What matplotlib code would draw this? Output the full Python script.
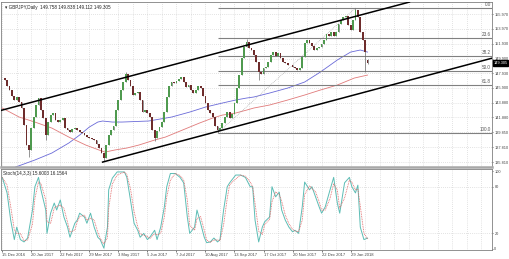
import matplotlib.pyplot as plt
import numpy as np
import pandas as pd

plt.rcParams['font.family'] = ['Liberation Sans Narrow', 'Liberation Sans', 'DejaVu Sans']

# GBPJPY daily closes, one candle per 2 bars (bar 0 = 15 Dec 2016)
closes = [
    147.25, 146.98, 146.16, 145.62, 144.80, 144.26, 144.67, 143.99, 143.17, 140.85,
    138.13, 137.45, 140.44, 141.94, 143.58, 144.53, 142.89, 141.81, 139.49, 141.26,
    142.21, 142.49, 141.53, 141.26, 141.53, 141.81, 140.44, 140.17, 139.90, 140.31,
    140.44, 140.17, 139.90, 139.76, 139.49, 139.22, 139.08, 138.95, 138.81, 138.26,
    137.72, 137.04, 136.36, 138.13, 139.49, 140.17, 140.71, 142.89, 144.26, 145.62,
    146.71, 147.80, 146.98, 146.16, 144.94, 145.21, 145.35, 144.26, 142.62, 142.89,
    142.49, 141.94, 140.17, 139.08, 140.03, 140.58, 141.26, 142.62, 144.67, 146.16,
    146.71, 146.57, 146.85, 147.12, 147.39, 146.71, 146.03, 146.30, 145.62, 145.21,
    145.62, 146.16, 145.89, 144.80, 143.85, 142.89, 142.49, 141.94, 140.71, 140.17,
    140.44, 141.12, 141.94, 142.62, 141.81, 142.35, 143.85, 145.89, 147.66, 149.98,
    151.48, 152.16, 151.34, 151.07, 150.39, 149.43, 148.07, 147.80, 148.62, 148.75,
    149.43, 150.39, 150.79, 150.25, 150.66, 149.98, 149.43, 149.30, 149.03, 149.03,
    148.75, 148.62, 148.34, 148.62, 150.11, 152.02, 152.43, 152.02, 151.61, 151.07,
    151.34, 151.48, 151.88, 152.43, 153.25, 152.97, 153.52, 152.97, 153.52, 154.61,
    155.15, 155.56, 155.70, 154.47, 153.79, 155.15, 156.52, 155.56, 153.52, 152.43,
    150.79, 149.305,
]
last_open = 149.758
# wick extremes at a few candles (bar -> price)
spike_lows = {22: 136.50, 36: 138.80, 84: 135.95, 126: 138.67, 178: 139.76, 212: 146.98, 300: 148.07, 302: 149.112}
spike_highs = {102: 148.07, 202: 152.57, 292: 156.79, 302: 149.838}

# moving averages (bar, price)
ma_blue_x = [11, 27, 41, 55, 64, 72, 79, 83, 91, 99, 121, 140, 155, 168, 182, 193, 202, 208, 221, 236, 250, 263, 277, 288, 296, 302]
ma_blue_y = [135.13, 136.09, 137.04, 138.40, 139.49, 140.58, 141.26, 141.40, 141.26, 141.26, 141.40, 141.94, 142.62,
             143.30, 143.85, 144.26, 144.53, 144.67, 145.21, 145.89, 146.71, 148.07, 149.71, 150.79, 151.07, 150.79]
ma_red_x = [0, 14, 27, 41, 55, 69, 80, 85, 93, 103, 113, 126, 135, 149, 163, 174, 182, 193, 202, 208, 221, 236, 250, 263, 277, 291, 302]
ma_red_y = [143.17, 141.94, 141.26, 140.44, 139.22, 138.13, 137.45, 137.17, 137.45, 137.72, 138.13, 138.81, 139.22,
            140.17, 141.12, 141.81, 142.21, 142.49, 142.89, 143.17, 143.58, 144.26, 144.94, 145.62, 146.30, 147.25, 147.66]

# channel anchors (bar, price)
upper_chan = [(0, 142.89), (343, 157.88)]
lower_chan = [(83, 135.81), (331, 146.71)]

# fibonacci swing
fib_low = (178, 139.76)
fib_high = (292, 156.79)
fib_levels = [0.0, 23.6, 38.2, 50.0, 61.8, 100.0]

price_ticks = [155.970, 153.970, 151.930, 149.900, 147.930, 145.900, 143.880, 141.880, 139.850, 137.810, 135.810]

# stochastic %K vertices (bar, value)
stoch_x = [0, 4, 7, 10, 12, 15, 18, 21, 25, 27, 30, 32, 36, 37, 40, 43, 45, 48, 51, 54, 56, 60, 62, 64, 68, 70, 73,
           76, 79, 81, 84, 87, 88, 91, 95, 101, 103, 106, 109, 112, 114, 117, 120, 122, 126, 128, 131, 134, 136, 139,
           143, 147, 150, 153, 155, 159, 161, 164, 167, 169, 172, 175, 178, 180, 183, 186, 188, 193, 197, 201, 205,
           207, 209, 212, 215, 217, 221, 223, 226, 229, 231, 234, 237, 240, 242, 245, 248, 250, 254, 256, 259, 262,
           264, 267, 271, 274, 277, 279, 283, 287, 289, 292, 294, 296, 299, 302]
stoch_k = [92, 72, 37, 12, 28, 12, 9, 14, 50, 80, 92, 76, 50, 20, 46, 59, 50, 63, 41, 28, 15, 33, 37, 46, 41, 33, 46,
           28, 15, 12, 1, 28, 76, 91, 99, 99, 92, 63, 33, 24, 15, 20, 12, 15, 24, 12, 28, 54, 80, 97,
           97, 92, 85, 41, 20, 28, 50, 33, 15, 8, 9, 14, 9, 12, 50, 80, 85, 95, 95, 92, 80,
           80, 37, 9, 28, 35, 41, 80, 67, 73, 50, 37, 28, 22, 24, 20, 54, 86, 76, 80, 67, 54,
           46, 54, 76, 92, 59, 46, 85, 92, 80, 72, 82, 28, 12, 14]
stoch_ticks = [100, 80, 20, 0]

date_labels = ["15 Dec 2016", "20 Jan 2017", "22 Feb 2017", "29 Mar 2017", "3 May 2017", "5 Jun 2017",
               "7 Jul 2017", "10 Aug 2017", "13 Sep 2017", "17 Oct 2017", "20 Nov 2017", "22 Dec 2017", "29 Jan 2018"]
date_bars = [0, 24, 48, 72, 96, 120, 144, 168, 192, 216, 240, 264, 288]

grey = "#808080"
grid_kw = dict(color="#c8c8c8", lw=0.5, ls=(0, (1, 2)), zorder=0)
fs = 3.3
fs_axis = 2.8
fs_date = 3.0

fig = plt.figure(figsize=(5.10, 2.59), dpi=100)
ax = fig.add_axes([0.002, 0.355, 0.963, 0.637])
ax2 = fig.add_axes([0.002, 0.035, 0.963, 0.312], sharex=ax)

xmin, xmax = -1, 405

# candles
bars = np.arange(len(closes)) * 2
closes_a = np.array(closes)
opens_a = np.concatenate([[closes[0]], closes_a[:-1]])
opens_a[-1] = last_open
highs_a = np.maximum(opens_a, closes_a)
lows_a = np.minimum(opens_a, closes_a)
for b, v in spike_lows.items():
    lows_a[b // 2] = v
for b, v in spike_highs.items():
    highs_a[b // 2] = v

up = closes_a >= opens_a
ax.vlines(bars, lows_a, highs_a, color="#6a6a6a", lw=0.5, zorder=3)
ax.bar(bars[up], closes_a[up] - opens_a[up], bottom=opens_a[up], width=1.5, color="#4f9a4f", lw=0, zorder=4)
ax.bar(bars[~up], closes_a[~up] - opens_a[~up], bottom=opens_a[~up], width=1.5, color="#6e2c2c", lw=0, zorder=4)

# moving averages
ax.plot(ma_blue_x, ma_blue_y, color="#6a6ad8", lw=0.6, zorder=2)
ax.plot(ma_red_x, ma_red_y, color="#e07a7a", lw=0.6, zorder=2)

# channel lines
ax.axline(upper_chan[0], upper_chan[1], color="black", lw=1.1, zorder=5)
slope = (lower_chan[1][1] - lower_chan[0][1]) / (lower_chan[1][0] - lower_chan[0][0])
ax.plot([lower_chan[0][0], xmax], [lower_chan[0][1], lower_chan[0][1] + slope * (xmax - lower_chan[0][0])],
        color="black", lw=1.1, zorder=5)

# fibonacci retracement
ax.plot([fib_low[0], fib_high[0]], [fib_low[1], fib_high[1]], color="#a0a0a0", lw=0.5, ls=(0, (1, 1.5)), zorder=2)
for lvl in fib_levels:
    p = fib_high[1] - (fib_high[1] - fib_low[1]) * lvl / 100
    ax.hlines(p, fib_low[0], xmax, color=grey, lw=0.8, zorder=2)
    ax.text(xmax - 1, p + 0.12, f"{lvl:.1f}", fontsize=fs, color="#555555", ha="right", va="bottom")

ax.set_xlim(xmin, xmax)
ax.set_ylim(135.13, 157.60)
ax.yaxis.tick_right()
ax.set_yticks(price_ticks)
ax.set_yticklabels([f"{t:.3f}" for t in price_ticks])
for t in price_ticks:
    ax.axhline(t, **grid_kw)
for b in range(0, 406, 12):
    ax.axvline(b, **grid_kw)
    ax2.axvline(b, **grid_kw)

ax.tick_params(axis="y", labelsize=fs_axis, length=1, width=0.5, pad=0.6, colors="#444444")
ax.tick_params(axis="x", bottom=False, labelbottom=False)

# current price box
ax.annotate("149.305", xy=(1.0, closes[-1]), xycoords=("axes fraction", "data"), xytext=(1.0, 0),
            textcoords="offset points", fontsize=fs_axis, color="white", va="center", ha="left",
            bbox=dict(boxstyle="square,pad=0.15", fc="black", ec="black"), annotation_clip=False)

ax.text(0.008, 0.985, "\u25be GBPJPY,Daily  149.758 149.838 149.112 149.305", transform=ax.transAxes,
        fontsize=fs, va="top", ha="left", color="#222222")

# stochastic
stoch_d = pd.Series(stoch_k).rolling(2, min_periods=1).mean()
ax2.plot(stoch_x, stoch_k, color="#5cbdb5", lw=0.7, zorder=3)
ax2.plot(stoch_x, stoch_d, color="#e06060", lw=0.6, ls=(0, (1, 1)), zorder=3)
ax2.set_ylim(-1.3, 102.6)
ax2.yaxis.tick_right()
ax2.set_yticks(stoch_ticks)
ax2.set_yticklabels([str(t) for t in stoch_ticks])
for t in [80, 20]:
    ax2.axhline(t, **grid_kw)
ax2.tick_params(axis="y", labelsize=fs_axis, length=1, width=0.5, pad=0.6, colors="#444444")
ax2.set_xticks(date_bars)
ax2.set_xticklabels(date_labels, ha="left")
ax2.tick_params(axis="x", labelsize=fs_date, length=1.5, width=0.5, pad=1, colors="#444444")
ax2.text(0.004, 0.975, "Stoch(14,3,3) 15.6003 16.1564", transform=ax2.transAxes,
         fontsize=fs, va="top", ha="left", color="#222222")

for a in (ax, ax2):
    for s in a.spines.values():
        s.set_color(grey)
        s.set_linewidth(0.6)
ax.spines["bottom"].set_linewidth(1.8)
ax.spines["bottom"].set_color("#a8a8a8")

fig.savefig("out.png", dpi=100)
